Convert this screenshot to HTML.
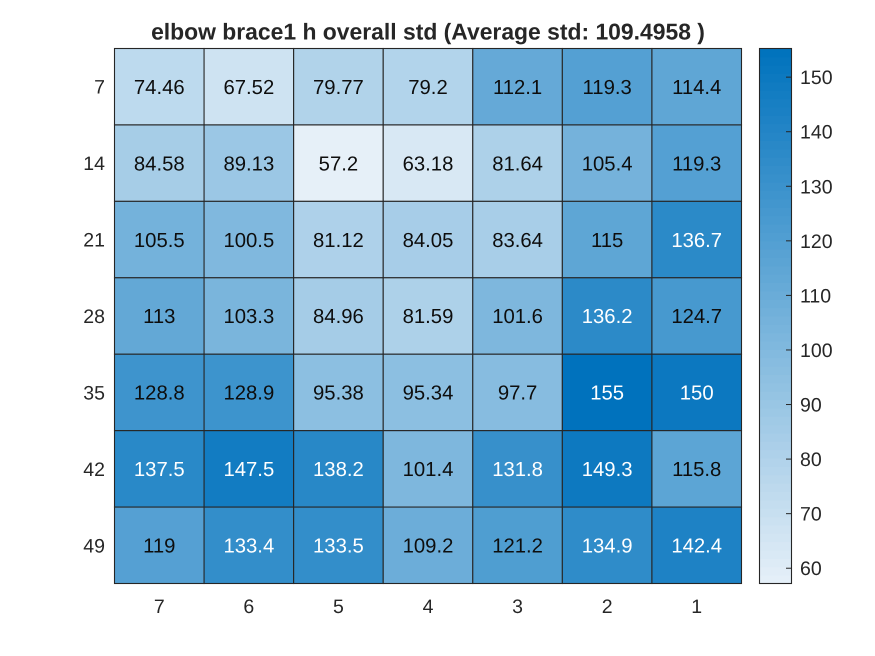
<!DOCTYPE html>
<html>
<head>
<meta charset="utf-8">
<style>
html,body{margin:0;padding:0;background:#fff;width:875px;height:656px;overflow:hidden}
svg{display:block;font-family:"Liberation Sans",Arial,sans-serif;text-rendering:geometricPrecision}
</style>
</head>
<body>
<svg id="chart" width="875" height="656" viewBox="0 0 875 656" xmlns="http://www.w3.org/2000/svg">
<text x="428" y="39.5" text-anchor="middle" font-size="22.9" font-weight="bold" fill="#262626">elbow brace1 h overall std (Average std: 109.4958 )</text>
</svg>
<script>
const xLabels = ['7', '6', '5', '4', '3', '2', '1'];
const yLabels = ['7', '14', '21', '28', '35', '42', '49'];
const cellValues = [
  [74.46, 67.52, 79.77, 79.2, 112.1, 119.3, 114.4],
  [84.58, 89.13, 57.2, 63.18, 81.64, 105.4, 119.3],
  [105.5, 100.5, 81.12, 84.05, 83.64, 115, 136.7],
  [113, 103.3, 84.96, 81.59, 101.6, 136.2, 124.7],
  [128.8, 128.9, 95.38, 95.34, 97.7, 155, 150],
  [137.5, 147.5, 138.2, 101.4, 131.8, 149.3, 115.8],
  [119, 133.4, 133.5, 109.2, 121.2, 134.9, 142.4]
];
const colorbarTicks = [60, 70, 80, 90, 100, 110, 120, 130, 140, 150];

const svg = document.getElementById('chart');
const NS = 'http://www.w3.org/2000/svg';
const plot = { left: 114.5, right: 741.5, top: 48.5, bottom: 583.5 };
const bar = { left: 759.5, right: 791.5, top: 48.5, bottom: 583.5 };
const ink = '#262626';
const flat = cellValues.flat();
const vMin = Math.min(...flat);
const vMax = Math.max(...flat);
const cbMax = vMax + 0.25;

function xPos(i) { return plot.left + (plot.right - plot.left) * i / xLabels.length; }
function yPos(i) { return plot.top + (plot.bottom - plot.top) * i / yLabels.length; }
function cbY(v) { return bar.bottom - (v - vMin) / (cbMax - vMin) * (bar.bottom - bar.top); }
function colorFor(v) {
  const t = Math.max(0, Math.min(1, (v - vMin) / (vMax - vMin)));
  const r = Math.round(230 + (0 - 230) * t);
  const g = Math.round(240 + (114 - 240) * t);
  const b = Math.round(248 + (189 - 248) * t);
  return 'rgb(' + r + ',' + g + ',' + b + ')';
}
function make(tag, attrs, text) {
  const el = document.createElementNS(NS, tag);
  Object.keys(attrs).forEach(function (k) { el.setAttribute(k, attrs[k]); });
  if (text !== undefined) el.textContent = text;
  svg.appendChild(el);
  return el;
}

cellValues.forEach(function (row, r) {
  row.forEach(function (v, c) {
    const cell = make('rect', {
      x: xPos(c), y: yPos(r), width: xPos(c + 1) - xPos(c), height: yPos(r + 1) - yPos(r),
      fill: colorFor(v), stroke: ink, 'stroke-width': 1.1
    });
    
    
  });
});

cellValues.forEach(function (row, r) {
  row.forEach(function (v, c) {
    const label = make('text', {
      x: (xPos(c) + xPos(c + 1)) / 2, y: (yPos(r) + yPos(r + 1)) / 2 + 7.2,
      'text-anchor': 'middle', 'font-size': 20.3, fill: v >= 130 ? '#ffffff' : '#0d0d0d'
    }, String(v));
    
    
  });
});

xLabels.forEach(function (t, i) {
  const label = make('text', {
    x: (xPos(i) + xPos(i + 1)) / 2, y: 613, 'text-anchor': 'middle', 'font-size': 19.5, fill: ink
  }, t);
  
  
});

yLabels.forEach(function (t, i) {
  const label = make('text', {
    x: 105, y: (yPos(i) + yPos(i + 1)) / 2 + 7, 'text-anchor': 'end', 'font-size': 19.5, fill: ink
  }, t);
  
  
});

const steps = 64;
for (let s = 0; s < steps; s++) {
  const lo = vMin + (cbMax - vMin) * s / steps;
  const hi = vMin + (cbMax - vMin) * (s + 1) / steps;
  const band = make('rect', {
    x: bar.left, y: cbY(hi), width: bar.right - bar.left, height: cbY(lo) - cbY(hi) + 0.5,
    fill: colorFor((lo + hi) / 2)
  });
  
  
}

const frame = make('rect', {
  x: bar.left, y: bar.top, width: bar.right - bar.left, height: bar.bottom - bar.top,
  fill: 'none', stroke: ink, 'stroke-width': 1.1
});



colorbarTicks.forEach(function (v) {
  const tick = make('line', {
    x1: bar.right - 5.5, x2: bar.right, y1: cbY(v), y2: cbY(v), stroke: ink, 'stroke-width': 1
  });
  
  
  const label = make('text', {
    x: 800, y: cbY(v) + 7, 'font-size': 19.5, fill: ink
  }, String(v));
  
  
});
</script>
</body>
</html>
